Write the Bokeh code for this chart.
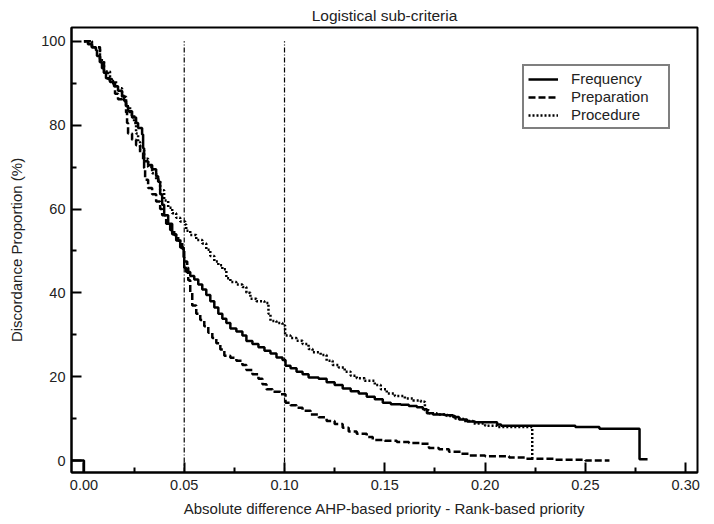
from bokeh.plotting import figure
from bokeh.models import Range1d, FixedTicker, Legend, LegendItem
from bokeh.embed import file_html
from bokeh.resources import INLINE

# ---------------- data ----------------
freq_x = [0.000, 0.002, 0.004, 0.006, 0.0065, 0.008, 0.009, 0.010, 0.011, 0.013,
          0.015, 0.017, 0.019, 0.020, 0.021, 0.022, 0.024, 0.026, 0.027, 0.029,
          0.0295, 0.030, 0.032, 0.034, 0.036, 0.037, 0.038, 0.039, 0.040, 0.042,
          0.044, 0.046, 0.048, 0.0497, 0.050, 0.051, 0.053, 0.055, 0.057, 0.059,
          0.061, 0.063, 0.065, 0.067, 0.069, 0.071, 0.073, 0.076, 0.079, 0.081,
          0.084, 0.087, 0.090, 0.093, 0.096, 0.099, 0.1005, 0.103, 0.106, 0.109,
          0.112, 0.117, 0.121, 0.125, 0.129, 0.133, 0.137, 0.141, 0.145, 0.149,
          0.153, 0.158, 0.162, 0.166, 0.169, 0.171, 0.174, 0.180, 0.184, 0.187,
          0.191, 0.195, 0.206, 0.208, 0.236, 0.245, 0.257, 0.277, 0.281]
freq_y = [100, 99.3, 98.6, 97.9, 96.5, 95.0, 93.6, 92.5, 91.2, 90.3,
          89.3, 88.2, 87.0, 85.8, 84.5, 83.3, 81.8, 80.5, 79.3, 77.8,
          74.5, 71.4, 70.5, 69.5, 67.8, 66.5, 63.5, 61.0, 58.5, 56.5,
          54.0, 52.5, 50.8, 48.5, 46.0, 45.0, 44.0, 43.2, 42.0, 40.8,
          39.5, 38.0, 36.5, 35.0, 33.8, 32.8, 31.5, 30.8, 29.8, 28.5,
          27.8, 27.0, 26.2, 25.5, 24.6, 24.0, 22.6, 22.0, 21.2, 20.6,
          19.8, 19.5, 18.7, 18.0, 17.2, 16.5, 16.0, 15.2, 14.6, 13.8,
          13.4, 13.3, 13.0, 12.7, 12.2, 11.3, 11.0, 10.8, 10.4, 9.8,
          9.3, 9.1, 8.6, 8.3, 8.3, 8.0, 7.6, 0.3, 0.3]

prep_x = [0.000, 0.004, 0.008, 0.010, 0.012, 0.014, 0.0155, 0.017, 0.019, 0.021,
          0.0215, 0.022, 0.024, 0.026, 0.028, 0.0295, 0.030, 0.0305, 0.032, 0.034,
          0.036, 0.038, 0.039, 0.041, 0.043, 0.045, 0.047, 0.049, 0.050, 0.0515,
          0.052, 0.053, 0.054, 0.056, 0.058, 0.060, 0.062, 0.064, 0.066, 0.068,
          0.070, 0.073, 0.076, 0.079, 0.081, 0.084, 0.087, 0.089, 0.091, 0.094,
          0.098, 0.1005, 0.103, 0.106, 0.109, 0.113, 0.117, 0.121, 0.125, 0.129,
          0.132, 0.136, 0.141, 0.144, 0.150, 0.156, 0.162, 0.168, 0.172, 0.177,
          0.182, 0.188, 0.192, 0.200, 0.212, 0.220, 0.235, 0.250, 0.262]
prep_y = [100, 98.6, 95.0, 92.5, 91.0, 90.0, 87.5, 86.2, 85.7, 83.0,
          80.5, 78.0, 76.5, 75.2, 73.5, 71.5, 69.8, 67.0, 65.0, 63.5,
          61.8, 60.0, 58.5, 56.5, 55.0, 53.8, 52.4, 50.5, 47.5, 46.0,
          43.0, 40.0, 37.0, 35.0, 33.5, 32.0, 30.5, 29.2, 28.0, 26.5,
          25.0, 24.5, 23.8, 22.8, 21.6, 20.6, 19.5, 18.2, 17.0, 16.4,
          15.8, 13.8, 13.2, 12.6, 11.9, 11.0, 10.3, 9.4, 8.7, 7.8,
          6.9, 6.4, 5.6, 4.9, 4.7, 4.4, 4.2, 4.0, 3.0, 2.7,
          2.1, 1.6, 1.2, 1.0, 0.7, 0.4, 0.2, 0.0, 0.0]

proc_x = [0.000, 0.004, 0.008, 0.010, 0.013, 0.016, 0.019, 0.021, 0.023, 0.025,
          0.026, 0.027, 0.028, 0.030, 0.032, 0.034, 0.036, 0.038, 0.040, 0.042,
          0.044, 0.046, 0.048, 0.0505, 0.051, 0.053, 0.056, 0.059, 0.061, 0.063,
          0.065, 0.067, 0.069, 0.071, 0.073, 0.076, 0.079, 0.081, 0.083, 0.086,
          0.090, 0.092, 0.093, 0.096, 0.099, 0.1003, 0.103, 0.106, 0.109, 0.112,
          0.114, 0.118, 0.121, 0.124, 0.127, 0.130, 0.133, 0.136, 0.140, 0.145,
          0.148, 0.151, 0.155, 0.160, 0.164, 0.168, 0.170, 0.172, 0.176, 0.181,
          0.185, 0.189, 0.194, 0.200, 0.206, 0.2235]
proc_y = [100, 98.6, 95.5, 92.8, 90.5, 88.8, 86.8, 84.5, 82.5, 80.5,
          78.0, 76.0, 74.0, 72.0, 70.0, 68.5, 67.0, 64.5, 62.0, 60.3,
          59.0, 57.9, 57.0, 56.3, 54.8, 53.8, 52.6, 51.8, 50.3, 48.8,
          47.5, 46.6, 45.6, 43.5, 42.6, 42.0, 41.4, 40.0, 38.6, 38.0,
          37.6, 35.0, 33.3, 32.8, 32.2, 29.8, 29.2, 28.6, 27.8, 26.6,
          25.8, 25.2, 23.8, 22.8, 22.2, 21.2, 20.2, 19.6, 19.0, 18.0,
          17.0, 16.0, 15.4, 14.8, 14.3, 14.0, 12.0, 11.3, 11.0, 10.6,
          10.0, 9.4, 8.8, 8.3, 8.0, 0.5]

# small stub at the origin of the plot
stub_x = [-0.0062, 0.0, 0.0]
stub_y = [0.0, 0.0, -2.86]

ref_lines_x = [0.05, 0.10]
ref_top = 100

x_ticks = [0.0, 0.05, 0.10, 0.15, 0.20, 0.25, 0.30]
x_labels = ["0.00", "0.05", "0.10", "0.15", "0.20", "0.25", "0.30"]
x_minor = [0.025, 0.075, 0.125, 0.175, 0.225, 0.275]
y_ticks = [0, 20, 40, 60, 80, 100]
y_minor = [10, 30, 50, 70, 90]

X_MIN, X_MAX = -0.0062, 0.3059
Y_MIN, Y_MAX = -2.86, 103.3

FONT = "Liberation Sans"
TXT = "#222222"

p = figure(width=704, height=522, output_backend="svg", toolbar_location=None,
           x_range=Range1d(X_MIN, X_MAX), y_range=Range1d(Y_MIN, Y_MAX),
           min_border_left=71, min_border_right=7, min_border_top=26,
           min_border_bottom=50)

p.title.text = "Logistical sub-criteria"
p.title.align = "center"
p.title.text_font = FONT
p.title.text_font_size = "15.5px"
p.title.text_font_style = "normal"
p.title.text_color = TXT
p.title.standoff = 8

p.xgrid.visible = False
p.ygrid.visible = False
p.outline_line_color = "black"
p.outline_line_width = 2
p.background_fill_color = "white"
p.border_fill_color = "white"

p.xaxis.ticker = FixedTicker(ticks=x_ticks, minor_ticks=x_minor)
p.xaxis.major_label_overrides = {t: l for t, l in zip(x_ticks, x_labels)}
p.yaxis.ticker = FixedTicker(ticks=y_ticks, minor_ticks=y_minor)

for ax in (p.xaxis[0], p.yaxis[0]):
    ax.axis_line_width = 2
    ax.axis_line_color = "black"
    ax.major_tick_in = 10
    ax.major_tick_out = 0
    ax.minor_tick_in = 5
    ax.minor_tick_out = 0
    ax.major_tick_line_width = 2
    ax.minor_tick_line_width = 2
    ax.major_label_text_font = FONT
    ax.major_label_text_font_size = "14.5px"
    ax.major_label_text_color = TXT
    ax.axis_label_text_font = FONT
    ax.axis_label_text_font_size = "15px"
    ax.axis_label_text_font_style = "normal"
    ax.axis_label_text_color = TXT

p.xaxis.axis_label = "Absolute difference AHP-based priority - Rank-based priority"
p.yaxis.axis_label = "Discordance Proportion (%)"
p.xaxis.major_label_standoff = 7
p.xaxis.axis_label_standoff = 7
p.yaxis.major_label_standoff = 6
p.yaxis.axis_label_standoff = 13

# reference vertical lines
p.segment(x0=ref_lines_x, y0=[Y_MIN] * len(ref_lines_x), x1=ref_lines_x,
          y1=[ref_top] * len(ref_lines_x), line_color="black", line_width=1.2,
          line_dash="5 2 1 2")

r_stub = p.line(stub_x, stub_y, line_color="black", line_width=2.5)

r_freq = p.step(freq_x, freq_y, mode="after", line_color="black", line_width=2.5)
r_prep = p.step(prep_x, prep_y, mode="after", line_color="black", line_width=2.5,
                line_dash="7 3")
r_proc = p.step(proc_x, proc_y, mode="after", line_color="black", line_width=2.5,
                line_dash="2 2")

legend = Legend(items=[LegendItem(label="Frequency", renderers=[r_freq]),
                       LegendItem(label="Preparation", renderers=[r_prep]),
                       LegendItem(label="Procedure", renderers=[r_proc])],
                location=(451, 343))
legend.border_line_color = "black"
legend.border_line_width = 2
legend.background_fill_alpha = 1
legend.label_text_font = FONT
legend.label_text_font_size = "15px"
legend.label_text_color = TXT
legend.glyph_width = 30
legend.glyph_height = 16
legend.label_height = 16
legend.label_width = 93
legend.label_standoff = 13
legend.spacing = 1
legend.padding = 4
legend.margin = 0
p.add_layout(legend, "center")

open("out.html", "w").write(file_html(p, INLINE))
